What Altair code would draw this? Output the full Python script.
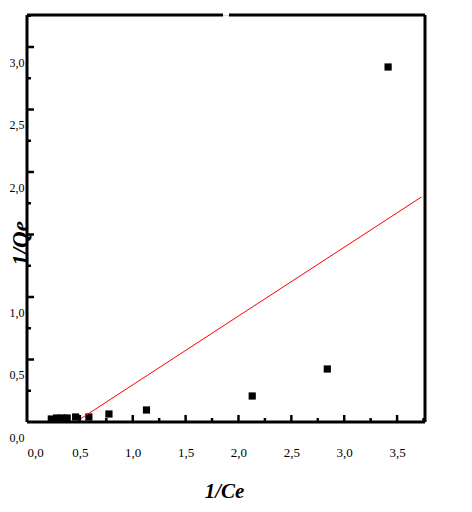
import altair as alt
import pandas as pd

# data
inv_ce = [0.23, 0.28, 0.33, 0.38, 0.46, 0.585, 0.775, 1.13, 2.13, 2.84, 3.415]
inv_qe = [0.024, 0.032, 0.032, 0.032, 0.04, 0.04, 0.064, 0.096, 0.208, 0.424, 2.84]

fit_x = [0.46, 3.73]
fit_y = [0.0, 1.80]

x_major = [0.5, 1.0, 1.5, 2.0, 2.5, 3.0, 3.5]
x_minor = [0.25, 0.75, 1.25, 1.75, 2.25, 2.75, 3.25, 3.75]
y_major = [0.5, 1.0, 1.5, 2.0, 2.5, 3.0]
y_minor = [0.25, 0.75, 1.25, 1.75, 2.25, 2.75, 3.25]
x_labels = [0.0, 0.5, 1.0, 1.5, 2.0, 2.5, 3.0, 3.5]
y_labels = [0.0, 0.5, 1.0, 2.0, 2.5, 3.0]

W, H = 398, 407
xs = alt.Scale(domain=[0, 3.764], nice=False, zero=False)
ys = alt.Scale(domain=[0, 3.256], nice=False, zero=False)
lab = "replace(format(datum.value, '.1f'), '.', ',')"

pts = pd.DataFrame({"x": inv_ce, "y": inv_qe})
fit = pd.DataFrame({"x": fit_x, "y": fit_y})

points = alt.Chart(pts).mark_square(size=52, color="black", opacity=1).encode(
    x=alt.X("x:Q", scale=xs, axis=alt.Axis(
        values=x_labels, labelExpr=lab, title="1/Ce", domain=False, ticks=False, grid=False,
        labelPadding=24, labelFont="Liberation Serif", labelFontSize=13, labelColor="black",
        titleFont="Liberation Serif", titleFontSize=21, titleFontStyle="italic", titleFontWeight="bold",
        titleColor="black", titleBaseline="middle", titleY=69, titleX=197)),
    y=alt.Y("y:Q", scale=ys, axis=alt.Axis(
        values=y_labels, labelExpr=lab, title="1/Qe", domain=False, ticks=False, grid=False,
        labelPadding=3, labelOffset=15, labelFont="Liberation Serif", labelFontSize=12, labelColor="black",
        titleFont="Liberation Serif", titleFontSize=23, titleFontStyle="italic", titleFontWeight="bold",
        titleColor="black", titleBaseline="middle", titleX=-7, titleY=228, titleAngle=-90)),
)

line = alt.Chart(fit).mark_line(color="#ff0000", strokeWidth=1).encode(
    x=alt.X("x:Q", scale=xs), y=alt.Y("y:Q", scale=ys))

def xticks(vals, length):
    return alt.Chart(pd.DataFrame({"x": vals})).mark_rule(color="black", strokeWidth=2.5).encode(
        x=alt.X("x:Q", scale=xs), y=alt.value(H), y2=alt.value(H - length))

def yticks(vals, length):
    return alt.Chart(pd.DataFrame({"y": vals})).mark_rule(color="black", strokeWidth=2.5).encode(
        y=alt.Y("y:Q", scale=ys), x=alt.value(0), x2=alt.value(length))

one = pd.DataFrame({"a": [0]})
frame = [
    alt.Chart(one).mark_rule(color="black", strokeWidth=3).encode(x=alt.value(0), x2=alt.value(0), y=alt.value(0), y2=alt.value(H)),
    alt.Chart(one).mark_rule(color="black", strokeWidth=3).encode(x=alt.value(W), x2=alt.value(W), y=alt.value(0), y2=alt.value(H)),
    alt.Chart(one).mark_rule(color="black", strokeWidth=3).encode(x=alt.value(0), x2=alt.value(W), y=alt.value(H), y2=alt.value(H)),
    alt.Chart(one).mark_rule(color="black", strokeWidth=3).encode(x=alt.value(0), x2=alt.value(196), y=alt.value(0), y2=alt.value(0)),
    alt.Chart(one).mark_rule(color="black", strokeWidth=3).encode(x=alt.value(202), x2=alt.value(W), y=alt.value(0), y2=alt.value(0)),
]

chart = alt.layer(
    points, line,
    xticks(x_major, 7), xticks(x_minor, 4), yticks(y_major, 7), yticks(y_minor, 4),
    *frame
).properties(
    width=W, height=H,
    autosize=alt.AutoSizeParams(type="none"),
    padding={"left": 19, "top": 7, "right": 39, "bottom": 82},
).configure_view(stroke=None).configure(background="white")

chart.save("out.html", embed_options={"renderer": "svg", "actions": False})
